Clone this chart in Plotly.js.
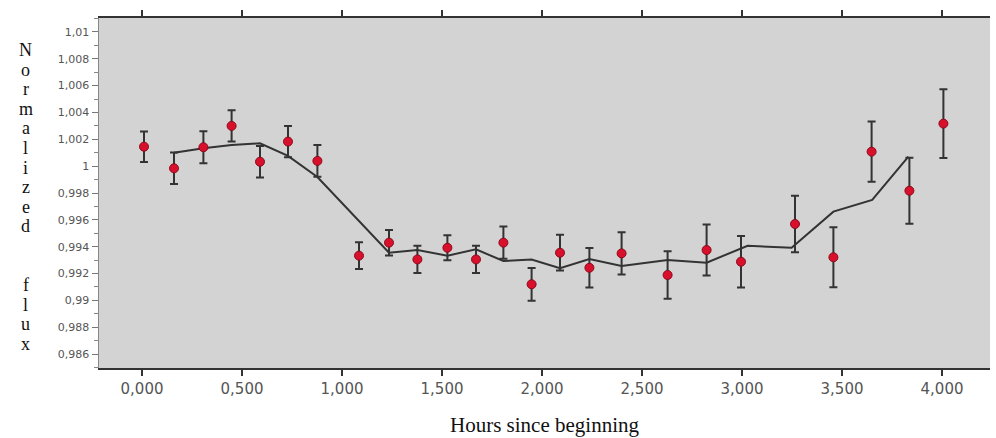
<!DOCTYPE html>
<html>
<head>
<meta charset="utf-8">
<script src="https://cdn.plot.ly/plotly-3.0.1.min.js"></script>
<style>html,body{margin:0;padding:0;background:#fff;}#chart{width:996px;height:438px;}</style>
</head>
<body>
<div id="chart"></div>
<script>
// Observed data points (hours, normalized flux, error)
var obsHours = [0.01, 0.16, 0.307, 0.448, 0.59, 0.73, 0.877, 1.085, 1.235, 1.377, 1.527, 1.67, 1.807, 1.948, 2.09, 2.237, 2.398, 2.628, 2.823, 2.995, 3.265, 3.457, 3.648, 3.837, 4.007];
var obsFlux = [1.00145, 0.99984, 1.00141, 1.0030, 1.00033, 1.00183, 1.00039, 0.99333, 0.9943, 0.99305, 0.99392, 0.99305, 0.9943, 0.9912, 0.99355, 0.99243, 0.9935, 0.99189, 0.99375, 0.99288, 0.99569, 0.99321, 1.00108, 0.99817, 1.00317];
var obsErr = [0.00114, 0.00117, 0.0012, 0.00117, 0.00118, 0.00117, 0.00118, 0.001, 0.00095, 0.00102, 0.00093, 0.00102, 0.0012, 0.00122, 0.00133, 0.00147, 0.00157, 0.00177, 0.0019, 0.00192, 0.00211, 0.00224, 0.00224, 0.00246, 0.00257];

// Model curve
var modelHours = [0.16, 0.307, 0.448, 0.59, 0.73, 0.877, 1.235, 1.377, 1.527, 1.67, 1.807, 1.948, 2.09, 2.237, 2.398, 2.628, 2.823, 3.028, 3.248, 3.457, 3.651, 3.832];
var modelFlux = [1.0010, 1.00133, 1.00158, 1.0017, 1.00076, 0.99919, 0.99355, 0.99375, 0.99333, 0.9938, 0.99293, 0.99305, 0.99239, 0.99308, 0.99256, 0.99301, 0.99281, 0.99407, 0.99392, 0.99661, 0.99748, 1.00071];

// Tick labels
var xTickVals = [0, 0.5, 1, 1.5, 2, 2.5, 3, 3.5, 4];
var xTickText = ["0,000", "0,500", "1,000", "1,500", "2,000", "2,500", "3,000", "3,500", "4,000"];
var yTickVals = [0.986, 0.988, 0.99, 0.992, 0.994, 0.996, 0.998, 1.0, 1.002, 1.004, 1.006, 1.008, 1.01];
var yTickText = ["0,986", "0,988", "0,99", "0,992", "0,994", "0,996", "0,998", "1", "1,002", "1,004", "1,006", "1,008", "1,01"];

var xTitle = "Hours since beginning";
var yTitleLetters = ["N","o","r","m","a","l","i","z","e","d","","","f","l","u","x"];

var traces = [
  {
    x: modelHours, y: modelFlux, type: "scatter", mode: "lines",
    line: {color: "#333333", width: 2}, hoverinfo: "skip", showlegend: false
  },
  {
    x: obsHours, y: obsFlux, type: "scatter", mode: "markers",
    marker: {color: "#d8102c", size: 9, line: {color: "#8a0a1c", width: 1}},
    error_y: {type: "data", array: obsErr, visible: true, color: "#333333", thickness: 2, width: 4},
    showlegend: false
  }
];

var mT = 18, mB = 70, H = 438;
var plotH = H - mT - mB;
var annotations = [];
for (var i = 0; i < yTitleLetters.length; i++) {
  if (!yTitleLetters[i]) continue;
  var py = 50 + i * 19.6;
  annotations.push({
    text: yTitleLetters[i], xref: "paper", yref: "paper",
    x: -0.082, y: 1 - (py - mT) / plotH, xanchor: "center", yanchor: "middle",
    showarrow: false,
    font: {family: "Liberation Serif, Times New Roman, serif", size: 18, color: "#111"}
  });
}

var layout = {
  width: 996, height: 438,
  margin: {l: 99, r: 6, t: mT, b: mB},
  paper_bgcolor: "#ffffff",
  plot_bgcolor: "#d3d3d3",
  showlegend: false,
  xaxis: {
    range: [-0.215, 4.24],
    tickvals: xTickVals, ticktext: xTickText,
    ticks: "outside", ticklen: 6, tickwidth: 2, tickcolor: "#333",
    showline: true, linecolor: "#333", linewidth: 2, mirror: "ticks",
    showgrid: false, zeroline: false,
    tickfont: {family: "DejaVu Sans, Arial, sans-serif", size: 15, color: "#555"},
    title: {text: xTitle, standoff: 20, font: {family: "Liberation Serif, Times New Roman, serif", size: 21, color: "#111"}}
  },
  yaxis: {
    range: [0.98496, 1.01104],
    tickvals: yTickVals, ticktext: yTickText,
    ticks: "outside", ticklen: 6, tickwidth: 1, tickcolor: "#777",
    minor: {dtick: 0.001, tick0: 0.985, ticks: "outside", ticklen: 4, tickcolor: "#888", tickwidth: 1, showgrid: false},
    showline: true, linecolor: "#888", linewidth: 1.5,
    showgrid: false, zeroline: false,
    tickfont: {family: "DejaVu Sans, Arial, sans-serif", size: 11, color: "#555"}
  },
  annotations: annotations
};

Plotly.newPlot("chart", traces, layout, {displayModeBar: false, staticPlot: true});
</script>
</body>
</html>
